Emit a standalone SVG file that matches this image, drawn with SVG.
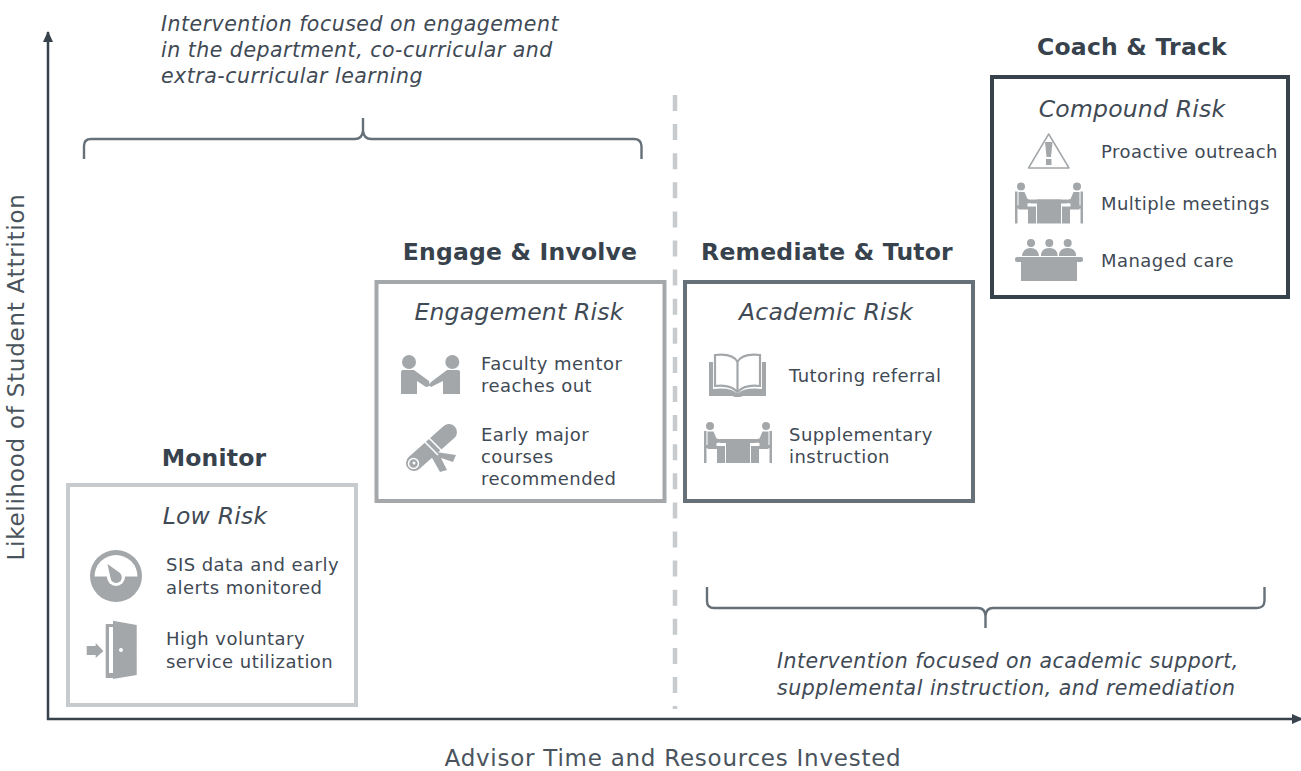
<svg xmlns="http://www.w3.org/2000/svg" width="1301" height="771" viewBox="0 0 1301 771">
<style>
text{font-family:"DejaVu Sans",Verdana,sans-serif;fill:#3f4a55}
.t{font-size:18px;letter-spacing:.45px}
.h{font-size:23.500px;font-weight:bold;text-anchor:middle;fill:#37424d;letter-spacing:.2px}
.r{font-size:23.500px;font-style:italic;text-anchor:middle;letter-spacing:.2px}
.i{font-size:20.500px;font-style:italic;letter-spacing:.5px}
.a{font-size:23px;fill:#4a545d;letter-spacing:.75px}
.box{fill:#fff;stroke-width:4}
.ic{fill:#a3a7aa}
.ln{fill:none;stroke:#a3a7aa}
.br{fill:none;stroke:#667078;stroke-width:2.400}
.ax{fill:none;stroke:#37424d;stroke-width:2.500}
</style>
<defs>
<marker id="arr" markerUnits="userSpaceOnUse" markerWidth="11" markerHeight="12" refX="10" refY="6" orient="auto"><path d="M0 1L11 6L0 11Z" fill="#37424d"/></marker>
<g id="sit">
<circle cx="6" cy="4" r="4"/>
<rect x="0" y="9" width="2.500" height="32"/>
<rect x="0" y="23" width="10" height="3"/>
<path d="M3.500 9.500h6l3 7 7 1.500 1 2-8 1v3l8.500 0v17h-8v-14h-9.500Z"/>
</g>
<g id="meet">
<use href="#sit"/>
<use href="#sit" transform="translate(68) scale(-1 1)"/>
<rect x="22" y="17" width="24" height="24"/><rect x="16" y="17" width="36" height="4"/>
</g>
</defs>
<g id="connectors">
<path class="ax" d="M48 720V32" marker-end="url(#arr)"/>
<path class="ax" d="M47 719H1302" marker-end="url(#arr)"/>
<path d="M675 95V709" fill="none" stroke="#c8cbcd" stroke-width="4.500" stroke-dasharray="16 13.100"/>
<path class="br" d="M84 159V146Q84 139 91 139H355Q362 139 363 131V118M363 131Q364 139 371 139H634Q641 139 641.500 146V159"/>
<path class="br" d="M707 587V601Q707 608 714 608H978Q985 608 985.500 616V628M985.500 616Q986 608 993 608H1257Q1264 608 1264.500 601V587"/>
</g>
<text class="i" x="161" y="31">Intervention focused on engagement</text>
<text class="i" x="161" y="57">in the department, co-curricular and</text>
<text class="i" x="161" y="83">extra-curricular learning</text>
<text class="i" x="777" y="668">Intervention focused on academic support,</text>
<text class="i" x="777" y="695">supplemental instruction, and remediation</text>
<text class="a" x="673" y="766" text-anchor="middle">Advisor Time and Resources Invested</text>
<text class="a" transform="translate(24 377) rotate(-90)" text-anchor="middle">Likelihood of Student Attrition</text>
<g id="node-monitor">
<text class="h" x="214" y="466">Monitor</text>
<rect class="box" x="68" y="485" width="288" height="220" stroke="#c8cbcd"/>
<text class="r" x="215" y="524">Low Risk</text>
<circle class="ic" cx="116" cy="576" r="26"/>
<path fill="#fff" d="M94.500 576.500A21.500 21.500 0 0 1 137.500 576.500Z"/>
<circle cx="116" cy="577" r="9" fill="#fff"/>
<path class="ic" d="M107.500 564L120 573A5.700 5.700 0 1 1 110.500 578Z"/>
<path class="ic" fill-rule="evenodd" d="M105.700 624h7.300v-3.300l23.700 4.300v50l-23.700 4v-1h-7.300ZM109 627v46h4v-46ZM121 648a2 2 0 1 0 .01 0Z"/>
<path class="ic" d="M86.700 646h9v-3l7.700 8-7.700 7v-3h-9Z"/>
<text class="t"><tspan x="166" y="571">SIS data and early</tspan><tspan x="166" y="593.500">alerts monitored</tspan></text>
<text class="t"><tspan x="166" y="645">High voluntary</tspan><tspan x="166" y="668">service utilization</tspan></text>
</g>
<g id="node-engage">
<text class="h" x="520" y="260">Engage &amp; Involve</text>
<rect class="box" x="376.500" y="282" width="288" height="219" stroke="#a5a8ab"/>
<text class="r" x="519" y="320">Engagement Risk</text>
<g class="ic">
<circle cx="409" cy="362" r="7"/><circle cx="452.300" cy="362" r="7"/>
<path d="M401 372q0-2 2-2h11l15 11 1 5-4 1-9-6v13h-16Z"/>
<path d="M460 372q0-2-2-2h-11l-16 12-2 3 2 2 12-6v13h17Z"/>
</g>
<path d="M449 432L414 463" fill="none" stroke="#a3a7aa" stroke-width="16" stroke-linecap="round"/>
<path class="ic" d="M436 452l20 3-3 7-12-4 6 12-7 2-9-16Z"/>
<path d="M425 442l13 13M429 438l13 13" fill="none" stroke="#fff" stroke-width="1.500"/>
<circle cx="413.500" cy="463.500" r="5" fill="none" stroke="#fff" stroke-width="1.500"/>
<circle cx="414" cy="463" r="1.500" fill="#fff"/>
<text class="t"><tspan x="481" y="370">Faculty mentor</tspan><tspan x="481" y="392">reaches out</tspan></text>
<text class="t"><tspan x="481" y="441">Early major</tspan><tspan x="481" y="463">courses</tspan><tspan x="481" y="485">recommended</tspan></text>
</g>
<g id="node-remediate">
<text class="h" x="827" y="260">Remediate &amp; Tutor</text>
<rect class="box" x="685" y="282" width="288" height="219" stroke="#667078"/>
<text class="r" x="826" y="320">Academic Risk</text>
<path class="ln" stroke-width="2.200" d="M715 355q18-2 22.500 7v30q-7-8-22.500-6ZM760 355q-18-2-22.500 7v30q7-8 22.500-6Z"/>
<path class="ic" d="M709 362h4v27q18-2 24.500 5 6.500-7 24.500-5v-27h4v34h-23l-3 1h-5l-3-1h-23Z"/>
<use class="ic" href="#meet" x="704" y="422"/>
<text class="t" x="789" y="382">Tutoring referral</text>
<text class="t"><tspan x="789" y="441">Supplementary</tspan><tspan x="789" y="463">instruction</tspan></text>
</g>
<g id="node-coach">
<text class="h" x="1132" y="55">Coach &amp; Track</text>
<rect class="box" x="992" y="77" width="296" height="220" stroke="#37424d"/>
<text class="r" x="1132" y="117">Compound Risk</text>
<path class="ln" stroke-width="1.500" stroke-linejoin="round" d="M1048.700 134L1028.500 168H1069Z"/>
<path class="ic" d="M1045 142h7.500l-1.500 15h-4.500ZM1046 159h5.500v6h-5.500Z"/>
<use class="ic" href="#meet" x="1015" y="182.500"/>
<g class="ic">
<circle cx="1031" cy="243" r="4"/><circle cx="1049.300" cy="243" r="4"/><circle cx="1067.700" cy="243" r="4"/>
<path d="M1022 256q1-8 8.500-8t8.500 8ZM1041 256q0-8 8.300-8t8.300 8ZM1059 256q0-8 8.500-8t8.500 8Z"/>
<rect x="1015" y="257" width="68" height="5" rx="2"/><rect x="1021" y="261" width="56" height="20"/>
</g>
<text class="t" x="1101" y="158">Proactive outreach</text>
<text class="t" x="1101" y="210">Multiple meetings</text>
<text class="t" x="1101" y="267">Managed care</text>
</g>
</svg>
